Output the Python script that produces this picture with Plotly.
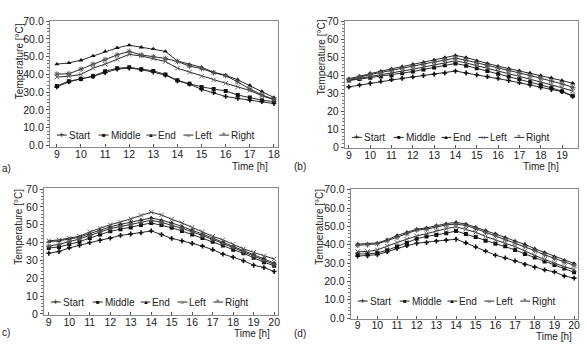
import plotly.graph_objects as go

# ---------------- data ----------------
series_names = ["Start", "Middle", "End", "Left", "Right"]

a_time = [9, 9.5, 10, 10.5, 11, 11.5, 12, 12.5, 13, 13.5, 14, 14.5, 15, 15.5, 16, 16.5, 17, 17.5, 18]
a_start = [33.0, 35.8, 37.5, 39.0, 41.0, 43.0, 43.6, 42.7, 41.3, 39.6, 36.4, 34.5, 31.6, 29.8, 27.6, 26.5, 25.5, 24.7, 23.6]
a_middle = [33.5, 36.2, 37.5, 39.0, 41.8, 43.5, 44.0, 43.0, 42.0, 40.0, 36.7, 34.7, 33.0, 31.8, 30.7, 28.4, 27.0, 25.5, 24.7]
a_end = [45.8, 46.5, 48.0, 50.4, 53.0, 55.0, 56.5, 55.3, 54.4, 53.0, 47.6, 45.6, 44.0, 41.3, 39.5, 37.0, 33.8, 30.4, 27.0]
a_left = [38.5, 39.0, 40.0, 43.5, 45.8, 48.5, 51.3, 50.4, 49.0, 47.3, 43.5, 41.3, 39.0, 37.0, 35.0, 33.0, 31.0, 28.0, 25.8]
a_right = [40.2, 40.4, 43.0, 45.8, 48.4, 51.0, 53.0, 51.0, 50.0, 49.0, 47.3, 44.7, 43.3, 41.0, 39.3, 35.8, 31.8, 28.5, 26.0]

b_time = [9, 9.5, 10, 10.5, 11, 11.5, 12, 12.5, 13, 13.5, 14, 14.5, 15, 15.5, 16, 16.5, 17, 17.5, 18, 18.5, 19, 19.5]
b_start = [33.5, 34.5, 35.5, 36.5, 37.5, 38.2, 39.0, 39.8, 40.5, 41.3, 42.3, 41.2, 40.2, 39.2, 38.2, 37.0, 35.8, 34.5, 33.2, 32.0, 30.8, 28.2]
b_middle = [37.0, 37.8, 38.5, 39.3, 40.0, 41.0, 42.0, 43.2, 44.3, 45.5, 46.5, 45.3, 43.8, 42.3, 40.8, 39.3, 37.8, 36.3, 34.8, 33.0, 31.0, 28.5]
b_end = [38.0, 39.5, 41.0, 42.2, 43.5, 44.8, 46.0, 47.2, 48.5, 49.8, 51.0, 49.8, 48.0, 46.5, 45.0, 43.7, 42.5, 41.2, 39.8, 38.5, 37.0, 35.5]
b_left = [37.2, 38.2, 39.2, 40.0, 41.0, 42.2, 43.3, 44.5, 45.6, 46.8, 48.0, 46.8, 45.2, 43.8, 42.3, 40.8, 39.3, 37.8, 36.2, 34.6, 33.0, 31.2]
b_right = [37.5, 39.0, 40.3, 41.5, 42.8, 44.0, 45.0, 46.2, 47.3, 48.5, 49.5, 48.3, 46.8, 45.3, 44.0, 42.6, 41.2, 39.8, 38.3, 36.8, 35.2, 33.2]

c_time = [9, 9.5, 10, 10.5, 11, 11.5, 12, 12.5, 13, 13.5, 14, 14.5, 15, 15.5, 16, 16.5, 17, 17.5, 18, 18.5, 19, 19.5, 20]
c_start = [34.0, 35.0, 37.0, 38.5, 40.0, 41.3, 42.5, 44.0, 44.8, 45.5, 46.5, 44.5, 42.3, 41.0, 39.5, 38.0, 36.0, 33.5, 31.8, 29.8, 27.3, 26.0, 23.8]
c_middle = [37.0, 37.5, 39.0, 40.5, 42.5, 44.5, 46.3, 47.5, 48.5, 49.8, 51.0, 49.8, 48.3, 46.5, 44.5, 42.5, 40.5, 38.3, 36.0, 34.0, 31.5, 29.0, 27.0]
c_end = [40.5, 41.0, 42.0, 43.0, 45.0, 47.0, 48.8, 50.2, 51.5, 52.7, 53.8, 52.5, 51.0, 49.0, 47.0, 44.8, 42.5, 40.2, 38.0, 35.8, 33.5, 31.0, 28.5]
c_left = [41.0, 41.5, 42.5, 43.5, 46.0, 48.0, 50.0, 51.5, 53.3, 55.2, 57.0, 55.5, 53.0, 51.0, 48.5, 46.0, 43.5, 41.5, 39.0, 36.5, 34.5, 32.5, 30.8]
c_right = [38.0, 39.0, 40.5, 42.0, 44.0, 46.0, 47.8, 49.0, 50.3, 51.5, 52.5, 51.3, 49.8, 48.0, 46.0, 44.0, 41.8, 39.5, 37.3, 35.0, 32.5, 30.0, 27.8]

d_time = [9, 9.5, 10, 10.5, 11, 11.5, 12, 12.5, 13, 13.5, 14, 14.5, 15, 15.5, 16, 16.5, 17, 17.5, 18, 18.5, 19, 19.5, 20]
d_start = [33.8, 34.0, 34.6, 36.2, 38.0, 39.5, 40.8, 41.2, 42.0, 42.5, 43.0, 41.0, 38.8, 36.5, 34.3, 32.8, 31.2, 29.3, 27.8, 26.3, 25.2, 23.0, 21.8]
d_middle = [35.0, 35.0, 35.5, 37.0, 39.0, 41.0, 43.3, 44.5, 45.3, 46.3, 47.5, 45.8, 44.2, 42.2, 40.5, 39.2, 37.2, 35.0, 33.0, 30.8, 29.0, 27.0, 25.0]
d_end = [40.3, 40.5, 41.0, 42.7, 45.0, 46.8, 48.5, 49.2, 50.5, 51.5, 52.2, 51.3, 49.5, 47.8, 46.0, 44.0, 42.0, 40.2, 37.8, 35.8, 33.5, 31.5, 29.8]
d_left = [36.2, 36.3, 37.2, 39.3, 41.2, 43.0, 44.8, 46.0, 47.5, 48.8, 49.8, 48.5, 46.8, 44.5, 42.5, 40.8, 39.0, 36.5, 34.2, 32.0, 30.0, 28.0, 26.5]
d_right = [39.7, 40.0, 40.5, 42.2, 44.0, 46.0, 48.0, 48.5, 49.8, 50.8, 51.3, 50.5, 48.8, 46.8, 45.0, 43.0, 41.0, 39.0, 36.8, 34.5, 32.5, 30.5, 28.8]

a_xticks = [9, 10, 11, 12, 13, 14, 15, 16, 17, 18]
b_xticks = [9, 10, 11, 12, 13, 14, 15, 16, 17, 18, 19]
c_xticks = [9, 10, 11, 12, 13, 14, 15, 16, 17, 18, 19, 20]
d_xticks = [9, 10, 11, 12, 13, 14, 15, 16, 17, 18, 19, 20]
y_ticks = [0, 10, 20, 30, 40, 50, 60, 70]

panel_labels = ["a)", "(b)", "c)", "(d)"]
x_title = "Time [h]"
y_title = "Temperature [°C]"

# ---------------- styling ----------------
W, H = 586, 348
FONT = "Liberation Sans, Arial, sans-serif"
LINE_COL = "#2a2a2a"
marker_styles = {
    "Start": dict(symbol="cross", size=4, color="#111"),
    "Middle": dict(symbol="square", size=4, color="#111"),
    "End": dict(symbol="triangle-up", size=4.5, color="#111"),
    "Left": dict(symbol="x-thin", size=4.5, color="#666", line=dict(width=1, color="#666")),
    "Right": dict(symbol="asterisk", size=4.5, color="#555", line=dict(width=1, color="#555")),
}
legend_glyph = {"Start": ("+", "#111", 9), "Middle": ("■", "#111", 6),
                "End": ("▲", "#111", 6), "Left": ("×", "#777", 8), "Right": ("*", "#666", 9)}

def px_x(p):
    return p / W

def px_y(p):
    return 1 - p / H

# panel geometry in pixels: box left, right, top, bottom ; x range ; y range ; tick fmt
panels = [
    dict(time=a_time, vals=[a_start, a_middle, a_end, a_left, a_right], xt=a_xticks,
         box=(50, 279, 15, 146), xr=(8.71, 18.17), yr=(-1.09, 70.38), fmt=".1f",
         leg_y=133.3, xtitle=(251, 166), ytitle=(19, 57), plabel=(0, 168)),
    dict(time=b_time, vals=[b_start, b_middle, b_end, b_left, b_right], xt=b_xticks,
         box=(346, 580, 15, 147), xr=(8.81, 19.75), yr=(-0.7, 70.38), fmt="d",
         leg_y=135.7, xtitle=(543, 166), ytitle=(322, 53), plabel=(293, 166)),
    dict(time=c_time, vals=[c_start, c_middle, c_end, c_left, c_right], xt=c_xticks,
         box=(44, 279, 188, 319), xr=(8.76, 20.19), yr=(-0.54, 70.54), fmt="d",
         leg_y=305.7, xtitle=(253, 338), ytitle=(19, 228), plabel=(0, 337)),
    dict(time=d_time, vals=[d_start, d_middle, d_end, d_left, d_right], xt=d_xticks,
         box=(352, 580, 189, 323), xr=(8.65, 20.2), yr=(-0.37, 70.37), fmt=".1f",
         leg_y=304.7, xtitle=(556, 341), ytitle=(321, 228), plabel=(293, 338)),
]
leg_offsets = [12, 54, 102, 139, 175]   # legend marker positions from box left (px)
leg_text_gap = 6

fig = go.Figure()
layout = dict(width=W, height=H, margin=dict(l=0, r=0, t=0, b=0),
              paper_bgcolor="white", plot_bgcolor="white", showlegend=False,
              font=dict(family=FONT, size=10, color="#222"))
annotations = []
shapes = []

for i, p in enumerate(panels):
    n = "" if i == 0 else str(i + 1)
    xa, ya = "x" + n, "y" + n
    for name, vals in zip(series_names, p["vals"]):
        fig.add_trace(go.Scatter(x=p["time"], y=vals, name=name, mode="lines+markers",
                                 xaxis=xa, yaxis=ya,
                                 line=dict(color=LINE_COL, width=1),
                                 marker=marker_styles[name]))
    l, r, t, b = p["box"]
    layout["xaxis" + n] = dict(domain=[px_x(l), px_x(r)], range=list(p["xr"]), anchor=ya,
                               tickvals=p["xt"], ticks="inside", ticklen=3, tickcolor="#555",
                               ticklabelstandoff=-3,
                               showline=True, linecolor="#8a8a8a", linewidth=1, mirror=True,
                               showgrid=False, zeroline=False,
                               tickfont=dict(family=FONT, size=10.5, color="#222"))
    layout["yaxis" + n] = dict(domain=[px_y(b), px_y(t)], range=list(p["yr"]), anchor=xa,
                               tickvals=y_ticks, tickformat=p["fmt"], ticks="outside",
                               ticklen=3, tickcolor="#555",
                               minor=dict(ticks="outside", ticklen=2, dtick=2, tickcolor="#777"),
                               showline=True, linecolor="#8a8a8a", linewidth=1, mirror=True,
                               showgrid=False, zeroline=False,
                               tickfont=dict(family=FONT, size=10.5, color="#222"))
    # axis titles
    annotations.append(dict(text=x_title, x=px_x(p["xtitle"][0]), y=px_y(p["xtitle"][1]),
                            xref="paper", yref="paper", showarrow=False,
                            xanchor="center", yanchor="middle", borderpad=0,
                            font=dict(family=FONT, size=10, color="#222")))
    annotations.append(dict(text=y_title, x=px_x(p["ytitle"][0]), y=px_y(p["ytitle"][1]),
                            xref="paper", yref="paper", showarrow=False, textangle=-90,
                            xanchor="center", yanchor="middle",
                            font=dict(family=FONT, size=10, color="#222")))
    annotations.append(dict(text=panel_labels[i], x=px_x(p["plabel"][0]), y=px_y(p["plabel"][1]),
                            xref="paper", yref="paper", showarrow=False,
                            xanchor="left", yanchor="middle",
                            font=dict(family=FONT, size=10, color="#222")))
    # legend (drawn inside the plot, single row)
    for name, off in zip(series_names, leg_offsets):
        mx = l + off
        shapes.append(dict(type="line", xref="paper", yref="paper",
                           x0=px_x(mx - 5), x1=px_x(mx + 5),
                           y0=px_y(p["leg_y"]), y1=px_y(p["leg_y"]),
                           line=dict(color=LINE_COL, width=1)))
        g, gc, gs = legend_glyph[name]
        annotations.append(dict(text=g, x=px_x(mx), y=px_y(p["leg_y"]), xref="paper", yref="paper",
                                showarrow=False, xanchor="center", yanchor="middle",
                                borderpad=0,
                                font=dict(family=FONT, size=gs, color=gc)))
        annotations.append(dict(text=name, x=px_x(mx + leg_text_gap), y=px_y(p["leg_y"]),
                                xref="paper", yref="paper", showarrow=False,
                                xanchor="left", yanchor="middle", borderpad=0,
                                font=dict(family=FONT, size=10, color="#222")))

layout["annotations"] = annotations
layout["shapes"] = shapes
fig.update_layout(**layout)
fig.write_html("out.html")
